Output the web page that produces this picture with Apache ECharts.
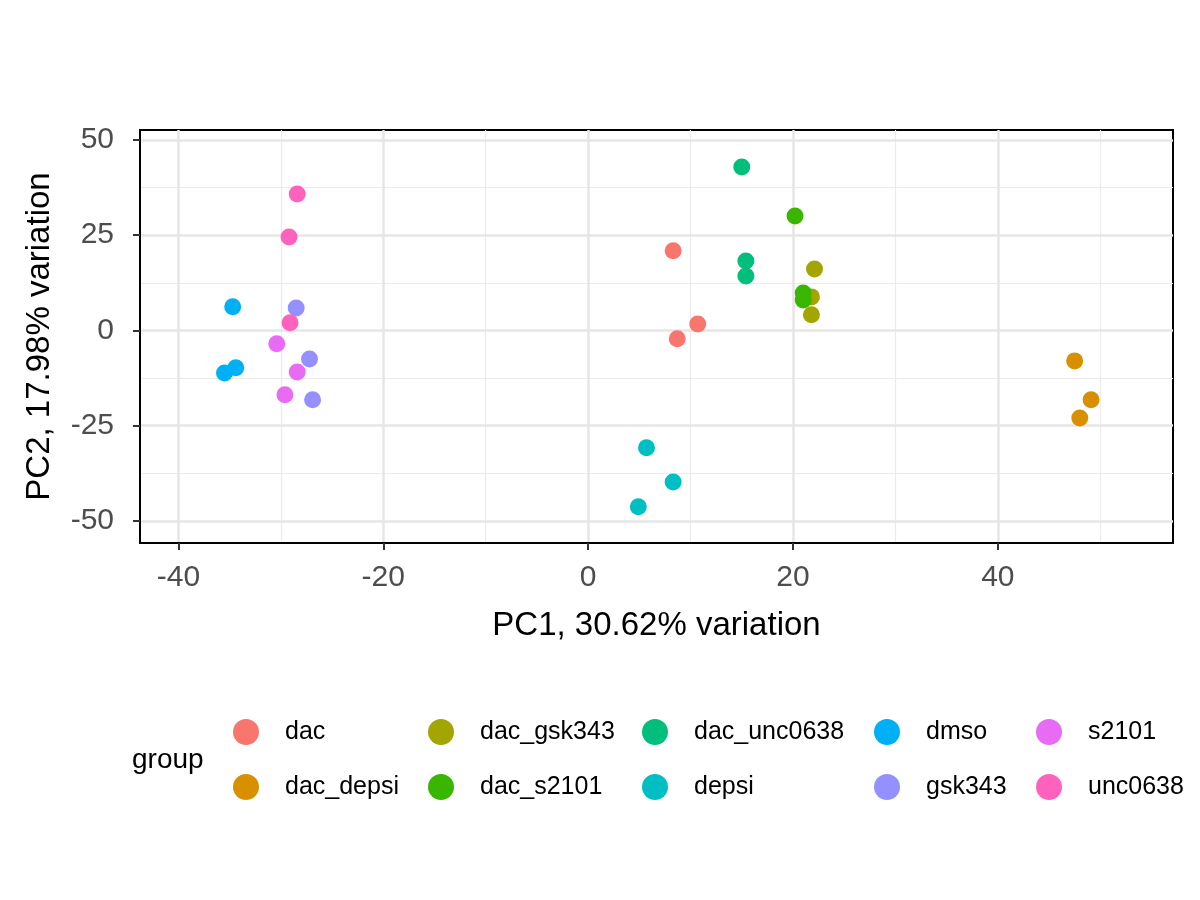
<!DOCTYPE html>
<html><head><meta charset="utf-8">
<script src="https://cdn.jsdelivr.net/npm/echarts@6/dist/echarts.min.js"></script>
<style>html,body{margin:0;background:#fff}#c{width:1200px;height:900px}</style></head>
<body><div id="c"></div>
<script>
const groups = ['dac','dac_depsi','dac_gsk343','dac_s2101','dac_unc0638','depsi','dmso','gsk343','s2101','unc0638'];
const colors = ['#F8766D','#D89000','#A3A500','#39B600','#00BF7D','#00BFC4','#00B0F6','#9590FF','#E76BF3','#FF62BC'];
const dac = [[8.3,20.9],[8.7,-2.2],[10.7,1.7]];
const dac_depsi = [[47.5,-8.0],[49.1,-18.2],[48.0,-23.0]];
const dac_gsk343 = [[22.1,16.1],[21.8,8.8],[21.8,4.1]];
const dac_s2101 = [[20.2,30.0],[21.0,9.8],[21.0,8.0]];
const dac_unc0638 = [[15.0,42.9],[15.4,18.2],[15.4,14.3]];
const depsi = [[5.7,-30.8],[8.3,-39.8],[4.9,-46.3]];
const dmso = [[-34.7,6.2],[-34.4,-9.8],[-35.5,-11.2]];
const gsk343 = [[-28.5,5.9],[-27.2,-7.5],[-26.9,-18.2]];
const s2101 = [[-30.4,-3.5],[-28.4,-10.9],[-29.6,-16.9]];
const unc0638 = [[-28.4,35.8],[-29.2,24.5],[-29.1,2.0]];
const values = [dac,dac_depsi,dac_gsk343,dac_s2101,dac_unc0638,depsi,dmso,gsk343,s2101,unc0638];
const xTicks = [-40,-20,0,20,40];
const xMinor = [-30,-10,10,30,50];
const yTicks = [-50,-25,0,25,50];
const yMinor = [-37.5,-12.5,12.5,37.5];

const gridLines = {
  type:'scatter', data:[], silent:true, z:0,
  markLine:{silent:true, symbol:'none', label:{show:false}, animation:false, z:0,
    data:[
      ...xMinor.map(v=>({xAxis:v, lineStyle:{color:'#EBEBEB',width:1.2,type:'solid'}})),
      ...yMinor.map(v=>({yAxis:v, lineStyle:{color:'#EBEBEB',width:1.2,type:'solid'}})),
      ...xTicks.map(v=>({xAxis:v, lineStyle:{color:'#E6E6E6',width:2.5,type:'solid'}})),
      ...yTicks.map(v=>({yAxis:v, lineStyle:{color:'#E6E6E6',width:2.5,type:'solid'}}))
    ]}
};
const series = [gridLines].concat(groups.map((g,i)=>({
  name:g, type:'scatter', data:values[i], symbolSize:17, z:10,
  itemStyle:{color:colors[i], opacity:1}
})));
const font = 'Liberation Sans, Arial';
const cols = [[0,1],[2,3],[4,5],[6,7],[8,9]];
const colLeft = [233,428,642,874,1036];
const legends = cols.map((c,k)=>({
  orient:'vertical', left:colLeft[k], top:719, itemWidth:26, itemHeight:26, itemGap:29,
  icon:'circle', data:c.map(i=>groups[i]), selectedMode:false,
  textStyle:{fontSize:25, color:'#000', fontFamily:font, padding:[0,0,0,21]}, padding:0
}));
const chart = echarts.init(document.getElementById('c'));
chart.setOption({
  animation:false,
  color:colors,
  grid:{left:140, right:27, top:130, bottom:357, show:true, borderColor:'#000', borderWidth:2, backgroundColor:'transparent'},
  xAxis:{type:'value', min:-43.75, max:57.1, axisLine:{show:true, onZero:false, lineStyle:{color:'#000', width:2}}, splitLine:{show:false},
    axisTick:{show:true, customValues:xTicks, length:7, lineStyle:{color:'#333', width:2}},
    axisLabel:{customValues:xTicks, fontSize:30, color:'#4D4D4D', margin:20, fontFamily:font},
    name:'PC1, 30.62% variation', nameLocation:'middle', nameGap:66,
    nameTextStyle:{fontSize:33, color:'#000', fontFamily:font}},
  yAxis:{type:'value', min:-55.8, max:52.6, axisLine:{show:true, onZero:false, lineStyle:{color:'#000', width:2}}, splitLine:{show:false},
    axisTick:{show:true, customValues:yTicks, length:7, lineStyle:{color:'#333', width:2}},
    axisLabel:{customValues:yTicks, fontSize:30, color:'#4D4D4D', margin:26, fontFamily:font},
    name:'PC2, 17.98% variation', nameLocation:'middle', nameGap:84,
    nameTextStyle:{fontSize:33, color:'#000', fontFamily:font}},
  legend:legends,
  graphic:[{type:'text', left:132, top:746, style:{text:'group', fontSize:28, fill:'#000', fontFamily:font}}],
  series:series
});
</script></body></html>
